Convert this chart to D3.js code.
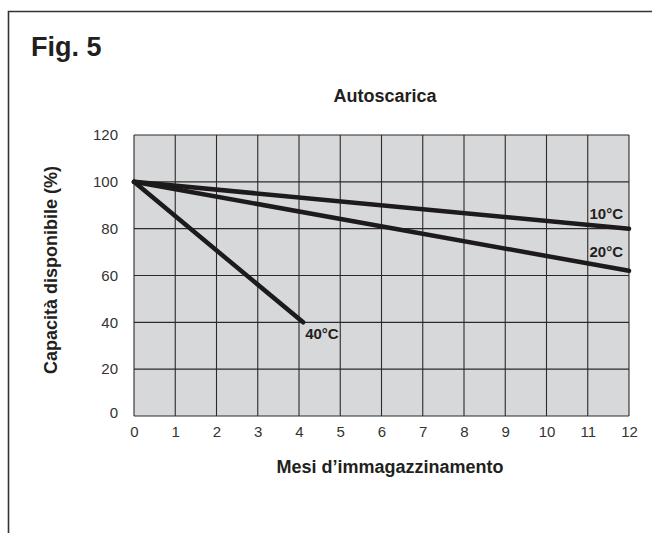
<!DOCTYPE html>
<html>
<head>
  <meta charset="utf-8">
  <script src="https://cdn.jsdelivr.net/npm/d3@7"></script>
  <style type="text/css">
    body { margin: 0; background: #fff; }
    .title, .axis-title {
      font-family: "Liberation Sans", Arial, sans-serif;
      font-weight: bold;
      fill: #231f20;
      font-size: 18px;
    }
    .fig {
      font-family: "Liberation Sans", Arial, sans-serif;
      font-weight: bold;
      fill: #231f20;
      font-size: 27px;
    }
    .tick-label {
      font-family: "Liberation Sans Narrow", "Liberation Sans", Arial, sans-serif;
      fill: #333;
      font-size: 15px;
    }
    .series-label {
      font-family: "Liberation Sans Narrow", "Liberation Sans", Arial, sans-serif;
      font-weight: bold;
      fill: #231f20;
      font-size: 15px;
    }
  </style>
</head>
<body>
<script type="text/javascript">
  // Data
  var months = [0, 1, 2, 3, 4, 5, 6, 7, 8, 9, 10, 11, 12];
  var capacityTicks = [0, 20, 40, 60, 80, 100, 120];
  var seriesNames = ["10°C", "20°C", "40°C"];
  var seriesX = [[0, 12], [0, 12], [0, 4.1]];
  var seriesY = [[100, 80], [100, 62], [100, 40]];

  var width = 652, height = 533;
  var plot = {left: 134, right: 629, top: 135, bottom: 416};

  var svg = d3.select("body").append("svg")
      .attr("width", width)
      .attr("height", height);

  var x = d3.scaleLinear().domain([0, 12]).range([plot.left, plot.right]);
  var y = d3.scaleLinear().domain([0, 120]).range([plot.bottom, plot.top]);

  // frame (top and left only)
  svg.append("path")
      .attr("d", "M8.5,533 L8.5,11.5 L652,11.5")
      .attr("fill", "none")
      .attr("stroke", "#333")
      .attr("stroke-width", 1.6);

  svg.append("text").attr("class", "fig")
      .attr("x", 31).attr("y", 56)
      .text("Fig. 5");

  // plot background
  svg.append("rect")
      .attr("x", plot.left).attr("y", plot.top)
      .attr("width", plot.right - plot.left)
      .attr("height", plot.bottom - plot.top)
      .attr("fill", "#d7d8da");

  // gridlines
  svg.append("g").selectAll("line").data(months).enter().append("line")
      .attr("x1", function(d) { return x(d); })
      .attr("x2", function(d) { return x(d); })
      .attr("y1", plot.top).attr("y2", plot.bottom)
      .attr("stroke", "#2a2a2a").attr("stroke-width", 1.1);

  svg.append("g").selectAll("line").data(capacityTicks).enter().append("line")
      .attr("y1", function(d) { return y(d); })
      .attr("y2", function(d) { return y(d); })
      .attr("x1", plot.left).attr("x2", plot.right)
      .attr("stroke", "#2a2a2a").attr("stroke-width", 1.1);

  // axes labels
  var xAxis = d3.axisBottom(x).tickValues(months).tickSize(0).tickPadding(10);
  var gx = svg.append("g").attr("transform", "translate(0," + plot.bottom + ")").call(xAxis);
  gx.select(".domain").remove();
  gx.selectAll("text").attr("class", "tick-label").attr("fill", null).attr("font-size", null).attr("font-family", null);

  var yAxis = d3.axisLeft(y).tickValues(capacityTicks).tickSize(0).tickPadding(16);
  var gy = svg.append("g").attr("transform", "translate(" + plot.left + ",0)").call(yAxis);
  gy.select(".domain").remove();
  gy.selectAll("text").attr("class", "tick-label").attr("fill", null).attr("font-size", null).attr("font-family", null);
  gy.selectAll(".tick").filter(function(d) { return d === 0; }).select("text").attr("dy", "0.1em");

  // series lines
  var line = d3.line()
      .x(function(d) { return x(d[0]); })
      .y(function(d) { return y(d[1]); });

  seriesNames.forEach(function(name, i) {
    var pts = d3.zip(seriesX[i], seriesY[i]);
    svg.append("path")
        .datum(pts)
        .attr("d", line)
        .attr("fill", "none")
        .attr("stroke", "#1c1a1b")
        .attr("stroke-width", 4.5)
        .attr("stroke-linecap", "round");
  });

  // series labels
  svg.append("text").attr("class", "series-label")
      .attr("x", x(12) - 6).attr("y", y(80) - 10)
      .attr("text-anchor", "end").text(seriesNames[0]);
  svg.append("text").attr("class", "series-label")
      .attr("x", x(12) - 6).attr("y", y(62) - 14)
      .attr("text-anchor", "end").text(seriesNames[1]);
  svg.append("text").attr("class", "series-label")
      .attr("x", x(4.1) + 2).attr("y", y(40) + 17)
      .text(seriesNames[2]);

  // titles
  svg.append("text").attr("class", "title")
      .attr("x", 385).attr("y", 102)
      .attr("text-anchor", "middle")
      .text("Autoscarica");

  svg.append("text").attr("class", "axis-title")
      .attr("x", 390).attr("y", 473)
      .attr("text-anchor", "middle")
      .text("Mesi d’immagazzinamento");

  svg.append("text").attr("class", "axis-title")
      .attr("transform", "translate(57,270) rotate(-90)")
      .attr("text-anchor", "middle")
      .text("Capacità disponibile (%)");
</script>
</body>
</html>
